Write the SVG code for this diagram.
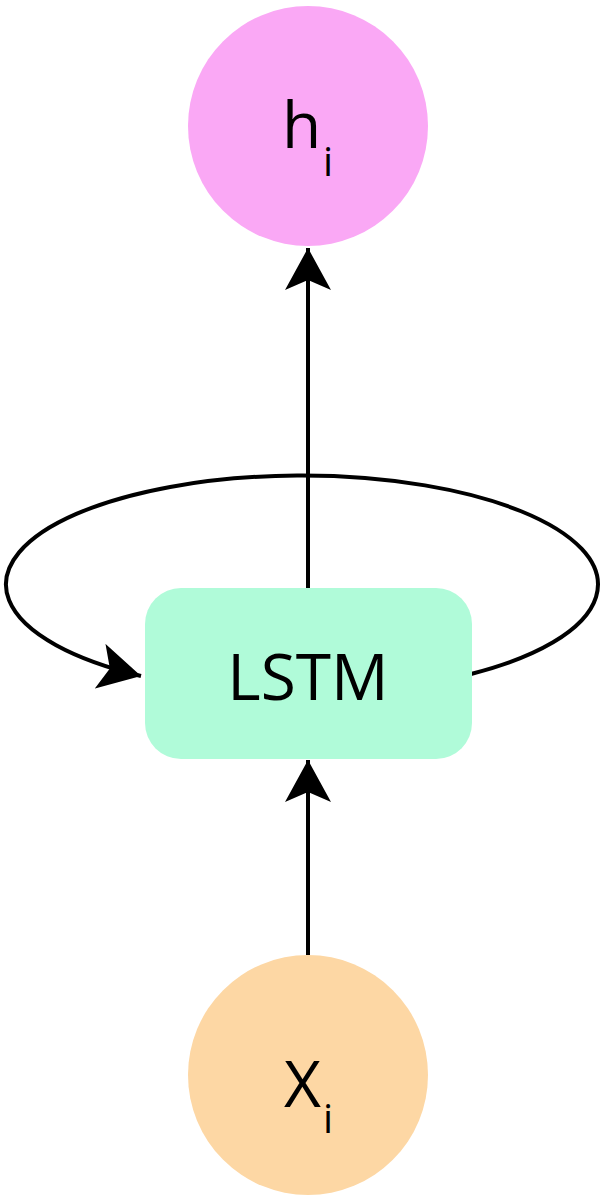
<svg xmlns="http://www.w3.org/2000/svg" width="601" height="1195" viewBox="0 0 601 1195">
  <style>
    .lbl { font-family: "Open Sans", "Noto Sans", "Liberation Sans", sans-serif; fill: #000; }
    .big { font-size: 64px; }
    .sub { font-size: 40px; }
    .edge { fill: none; stroke: #000; stroke-width: 4; }
  </style>
  <defs>
    <marker id="arr" markerUnits="userSpaceOnUse" markerWidth="44" markerHeight="46" viewBox="0 0 44 46" refX="42" refY="23" orient="auto">
      <path d="M42,23 L0,0 L10,23 L0,46 Z" fill="#000"/>
    </marker>
  </defs>
  <rect width="601" height="1195" fill="#fff"/>
  <g id="connectors">
    <path class="edge" d="M308,588 L308,248" marker-end="url(#arr)"/>
    <path class="edge" d="M308,955 L308,760" marker-end="url(#arr)"/>
    <path class="edge" d="M471,674 A296,109 0 1 0 141,676" marker-end="url(#arr)"/>
  </g>
  <g id="node-h">
    <circle cx="308" cy="126" r="120" fill="#FAA8F5"/>
    <text class="lbl big" x="282" y="148">h</text>
    <text class="lbl sub" x="323" y="176">i</text>
  </g>
  <g id="node-lstm">
    <rect x="145" y="588" width="327" height="171" rx="36" ry="36" fill="#B0FBD9"/>
    <text class="lbl" x="308" y="700" font-size="64" text-anchor="middle">LSTM</text>
  </g>
  <g id="node-x">
    <circle cx="308" cy="1075" r="120" fill="#FDD7A4"/>
    <text class="lbl big" x="284" y="1107">X</text>
    <text class="lbl sub" x="323" y="1133">i</text>
  </g>
</svg>
